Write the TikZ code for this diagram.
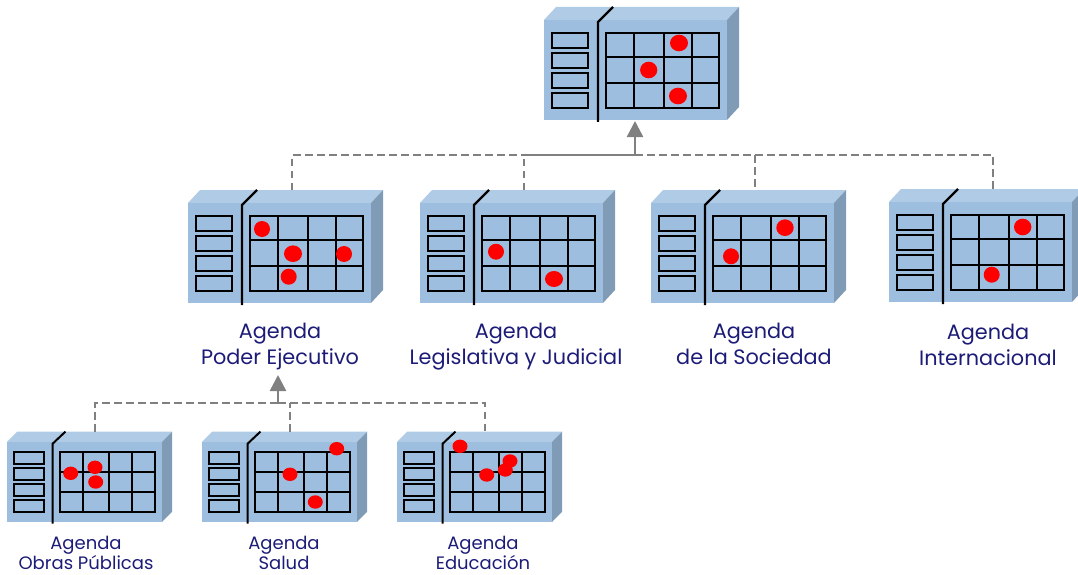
\documentclass[tikz,border=0pt]{standalone}
\usepackage{fontspec}
\setmainfont{Poppins}
\usetikzlibrary{arrows.meta}

\definecolor{boxfront}{RGB}{157,190,222}
\definecolor{boxtop}{RGB}{176,203,229}
\definecolor{boxside}{RGB}{128,155,182}
\definecolor{labelblue}{RGB}{28,28,120}

\tikzset{
	linkdash/.style={draw=gray,line width=2pt,dash pattern=on 7.5pt off 4.5pt},
	linksolid/.style={draw=gray,line width=2.5pt},
	linkhead/.style={linksolid,-{Triangle[width=16pt,length=16pt]}},
	biglabel/.style={text=labelblue,align=center,inner sep=0pt,font=\fontsize{20.8}{26}\selectfont},
	smalllabel/.style={text=labelblue,align=center,inner sep=0pt,font=\fontsize{18}{20}\selectfont}
}

%Box: name, x, y of the front face, xscale, yscale, line width
\newcommand{\agendabox}[6]{
	\begin{scope}[shift={(#2,#3)},xscale=#4,yscale=#5]
		\fill[boxtop] (0,0) -- (12,-13) -- (195,-13) -- (183,0) -- cycle;
		\fill[boxside] (183,0) -- (195,-13) -- (195,87) -- (183,100) -- cycle;
		\fill[boxfront] (0,0) rectangle (183,100);
		\draw[line width=#6pt] (54,102) -- (54,2) -- (69,-13);
		\foreach \ry in {13,33,53,73}
			\draw[line width=#6pt] (8,\ry) rectangle (44,\ry+15);
		\draw[line width=#6pt] (62,13) rectangle (175,88);
		\foreach \gx in {90,120,148}
			\draw[line width=#6pt] (\gx,13) -- (\gx,88);
		\foreach \gy in {37,63}
			\draw[line width=#6pt] (62,\gy) -- (175,\gy);
		\coordinate (#1up) at (104,-13);
		\coordinate (#1foot) at (91,101);
	\end{scope}
}

\begin{document}
\begin{tikzpicture}[x=1pt,y=-1pt]

	\useasboundingbox (0,0) rectangle (1078,575);

	%Define the size of the lower boxes
	\pgfmathsetmacro{\sx}{155/183}
	\pgfmathsetmacro{\sy}{0.8}

	%Draw the boxes
	\agendabox{nacional}{544}{20}{1}{1}{2.2}
	\agendabox{ejecutivo}{188}{203}{1}{1}{2.2}
	\agendabox{legislativa}{420}{203}{1}{1}{2.2}
	\agendabox{sociedad}{651}{203}{1}{1}{2.2}
	\agendabox{internacional}{889}{202}{1}{1}{2.2}
	\agendabox{obras}{7}{442}{\sx}{\sy}{2}
	\agendabox{salud}{202}{442}{\sx}{\sy}{2}
	\agendabox{educacion}{397}{442}{\sx}{\sy}{2}

	%Red marks in the grids
	\foreach \px/\py/\rx/\ry in {
		679/43/9/8.3, 648.7/70/8.6/8.3, 678/96/9/8.3,
		262/229/8/8, 293/253.7/9/8.3, 344/254/8/8, 288.7/276.7/8/8,
		496/251.7/8/8, 554/279/9/8,
		785/227.7/8.7/8.3, 731/256.3/8/8,
		1022.7/227/8.7/8.3, 991.7/274.7/8/8,
		70.7/473.3/7.5/6.7, 95/467.3/7.5/6.7, 95.7/482/7.5/6.7,
		290/474.3/7.5/6.7, 336.7/448.7/7.5/6.7, 315.3/502/7.5/6.7,
		460/446.3/7.5/6.7, 486.7/475/7.5/6.7, 510/461/7.5/6.7, 505.3/470/7.5/6.7}
		\fill[red] (\px,\py) ellipse [x radius=\rx,y radius=\ry];

	%Junctions of the two buses
	\coordinate (busup) at (635,155);
	\coordinate (busdown) at (278,403);
	\coordinate (ejecutivofoot) at (278,375);

	\draw[linkdash] (ejecutivoup) |- (legislativaup |- busup);
	\draw[linkdash] (legislativaup) -- (legislativaup |- busup);
	\draw[linkdash] (busup) -| (sociedadup);
	\draw[linkdash] (busup) -| (internacionalup);
	\draw[linksolid] (legislativaup |- busup) -- (busup);
	\draw[linkhead] (busup) -- (nacionalfoot);

	\draw[linkdash] (obrasup) |- (busdown);
	\draw[linkdash] (saludup) -- (saludup |- busdown);
	\draw[linkdash] (busdown) -| (educacionup);
	\draw[linkhead] (busdown) -- (ejecutivofoot);

	\node[biglabel] (ejecutivolabel) at (280,347) {Agenda\\Poder Ejecutivo};
	\node[biglabel] (legislativalabel) at (516,347) {Agenda\\Legislativa y Judicial};
	\node[biglabel] (sociedadlabel) at (754,344) {Agenda\\de la Sociedad};
	\node[biglabel] (internacionallabel) at (988,345) {Agenda\\Internacional};
	\node[smalllabel] (obraslabel) at (86,552.5) {Agenda\\Obras Públicas};
	\node[smalllabel] (saludlabel) at (284,552.5) {Agenda\\Salud};
	\node[smalllabel] (educacionlabel) at (483,552.5) {Agenda\\Educación};

\end{tikzpicture}
\end{document}
